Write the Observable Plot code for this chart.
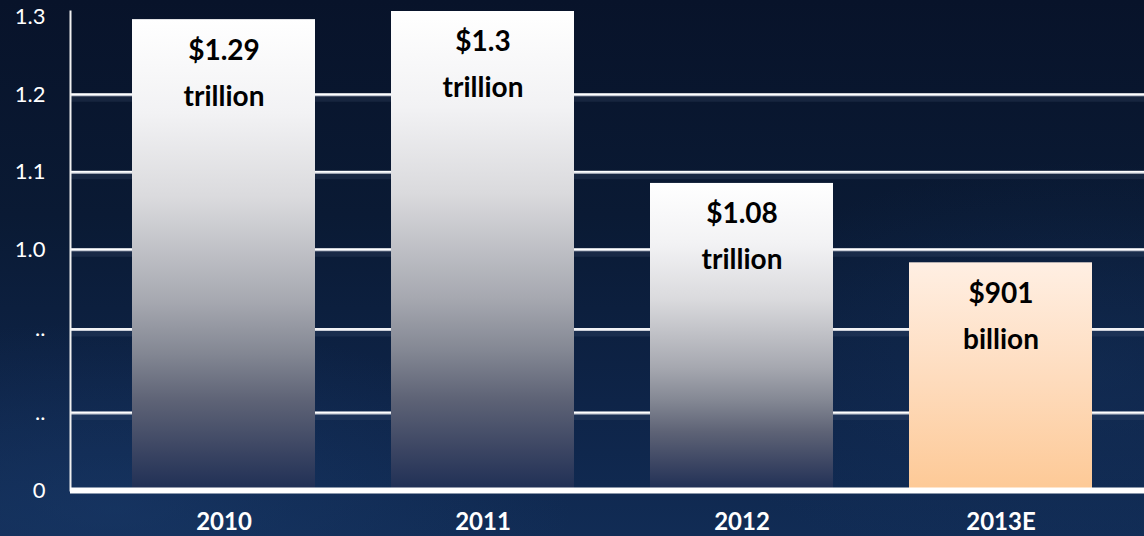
<!DOCTYPE html>
<html>
<head>
<meta charset="utf-8">
<script src="https://cdn.jsdelivr.net/npm/d3@7"></script>
<script src="https://cdn.jsdelivr.net/npm/@observablehq/plot@0.6"></script>
<style>
  html, body { margin: 0; padding: 0; width: 1144px; height: 536px; overflow: hidden; }
  body {
    background:
      radial-gradient(ellipse 40% 35% at 10% 95%, rgba(28, 62, 112, 0.45), rgba(0,0,0,0) 100%),
      radial-gradient(ellipse 35% 40% at 95% 70%, rgba(24, 55, 100, 0.35), rgba(0,0,0,0) 100%),
      linear-gradient(180deg, #08132a 0%, #0a1a34 40%, #0e2448 75%, #112c55 100%);
    font-family: Lato, "Open Sans", sans-serif;
  }
  #chart svg { display: block; background: transparent; }
</style>
</head>
<body>
<div id="chart"></div>
<script>
// Data (bar tops as drawn on the axis's own scale)
const years = ["2010", "2011", "2012", "2013E"];
const barTops = [1.297, 1.3075, 1.0855, 0.983];
const amounts = ["$1.29", "$1.3", "$1.08", "$901"];
const units = ["trillion", "trillion", "trillion", "billion"];
const tickValues = [0.689, 0.789, 0.897, 1.0, 1.1, 1.2, 1.3];
const tickLabels = ["0", "..", "..", "1.0", "1.1", "1.2", "1.3"];
const gridValues = [0.789, 0.897, 1.0, 1.1, 1.2];
const baseValue = 0.689;

const data = years.map((year, i) => ({year, value: barTops[i], amount: amounts[i], unit: units[i]}));

const plot = Plot.plot({
  width: 1144,
  height: 536,
  marginTop: 11,
  marginBottom: 46,
  marginLeft: 70,
  marginRight: 0,
  style: {background: "transparent", color: "white", fontFamily: "Lato, 'Open Sans', sans-serif"},
  x: {type: "band", domain: years, range: [83.5, 1140.6], paddingInner: 0.294, paddingOuter: 0.18, axis: null},
  y: {domain: [baseValue, 1.3075], range: [490, 11], axis: null},
  marks: [
    // gridline shadows
    Plot.ruleY(gridValues, {stroke: "#5a6a88", strokeWidth: 6, strokeOpacity: 0.18, dy: 4}),
    Plot.ruleY(gridValues, {stroke: "#c8ccd6", strokeWidth: 3}),
    Plot.ruleY(gridValues, {stroke: "#ffffff", strokeWidth: 1.5, dy: -0.5}),
    Plot.barY(data, {filter: d => d.year !== "2013E", x: "year", y1: () => baseValue, y2: "value", fill: "url(#silverGrad)"}),
    Plot.barY(data, {filter: d => d.year === "2013E", x: "year", y1: () => baseValue, y2: "value", fill: "url(#peachGrad)"}),
    Plot.text(data, {x: "year", y: "value", text: "amount", dy: 31, fontSize: 28, fontWeight: 700, fill: "#000000"}),
    Plot.text(data, {x: "year", y: "value", text: "unit", dy: 77, fontSize: 28, fontWeight: 700, fill: "#000000"}),
    Plot.frame({anchor: "left", stroke: "#f0f0f0", strokeWidth: 2}),
    Plot.ruleY([baseValue], {stroke: "#ffffff", strokeWidth: 6}),
    Plot.axisY({ticks: tickValues, tickFormat: d => tickLabels[tickValues.indexOf(d)], tickSize: 0, tickPadding: 25, fontSize: 22, fill: "#ffffff", label: null}),
    Plot.axisX({tickSize: 0, tickPadding: 22, fontSize: 24, fontWeight: 700, fill: "#ffffff", label: null})
  ]
});

const svg = d3.select(plot);
const defs = svg.insert("defs", ":first-child");
const silver = defs.append("linearGradient").attr("id", "silverGrad").attr("x1", 0).attr("y1", 0).attr("x2", 0).attr("y2", 1);
[[0, "#ffffff"], [0.2, "#f2f2f4"], [0.38, "#dadadd"], [0.6, "#a6a8b0"], [0.71, "#838793"], [0.81, "#5e6376"], [0.92, "#3a4462"], [1, "#1f2f55"]]
  .forEach(([o, c]) => silver.append("stop").attr("offset", o).attr("stop-color", c));
const peach = defs.append("linearGradient").attr("id", "peachGrad").attr("x1", 0).attr("y1", 0).attr("x2", 0).attr("y2", 1);
[[0, "#ffefe3"], [0.5, "#fedcbe"], [1, "#fdc996"]]
  .forEach(([o, c]) => peach.append("stop").attr("offset", o).attr("stop-color", c));

document.getElementById("chart").appendChild(plot);
</script>
</body>
</html>
